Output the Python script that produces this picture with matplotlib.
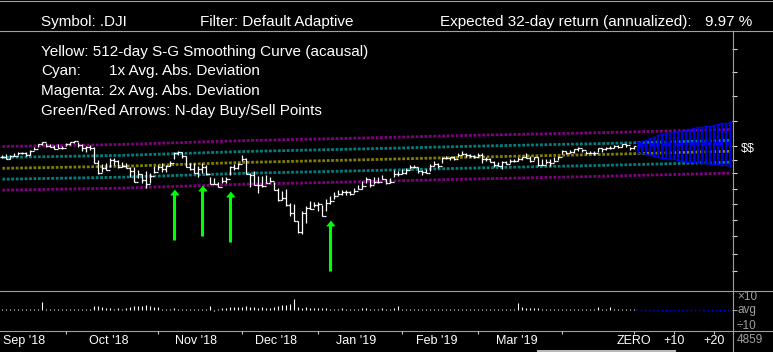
#%% imports
import matplotlib
matplotlib.use("Agg")
import matplotlib.pyplot as plt
from matplotlib.lines import Line2D
from matplotlib.patches import Rectangle
from matplotlib.ticker import FixedLocator, NullLocator
from matplotlib.transforms import blended_transform_factory
import numpy as np

plt.rcParams["font.family"] = ["Liberation Sans", "DejaVu Sans"]

#%% data (.DJI daily bars, 7 Sep 2018 .. 26 Apr 2019, last bar = day 0)
bar_high = [26050, 26105, 26050, 26160, 26215, 26215, 26215, 26325, 26490, 26655,
            26765, 26710, 26655, 26600, 26655, 26545, 26710, 26710, 26820, 26765,
            26655, 26545, 26600, 26490, 25775, 25555, 25610, 25885, 25885, 25775,
            25665, 25610, 25390, 25390, 25225, 25005, 25170, 25060, 25445, 25500,
            25610, 25500, 25720, 26215, 26270, 26215, 25995, 25610, 25610, 25445,
            25610, 25500, 24840, 24785, 24565, 24840, 24840, 25445, 25555, 25610,
            26050, 25885, 25060, 25170, 24895, 24895, 24950, 24840, 24565, 24235,
            24070, 24180, 23410, 23355, 22420, 22970, 23245, 23520, 23465, 23465,
            23300, 23630, 23795, 24015, 24125, 24125, 24125, 24070, 24235, 24400,
            24620, 24840, 24730, 24840, 24840, 24950, 24730, 24785, 25225, 25170,
            25280, 25335, 25500, 25500, 25390, 25225, 25280, 25555, 25720, 25610,
            25940, 25995, 25940, 25995, 26160, 26270, 26160, 26105, 26050, 26160,
            26160, 25940, 25885, 25720, 25665, 25720, 25720, 25830, 25830, 25940,
            25940, 26160, 25995, 25940, 25940, 25830, 25830, 25830, 25940, 25995,
            26325, 26270, 26325, 26380, 26490, 26380, 26270, 26270, 26270, 26435,
            26435, 26490, 26545, 26600, 26600, 26655, 26655, 26490, 26545]
bar_low = [25885, 25830, 25830, 25995, 26050, 26105, 25995, 26050, 26325, 26490,
           26600, 26490, 26490, 26380, 26490, 26380, 26545, 26600, 26710, 26490,
           26270, 26215, 26325, 25610, 25005, 25115, 25335, 25390, 25500, 25335,
           25390, 25335, 24840, 24675, 24785, 24510, 24235, 24510, 25060, 25225,
           25115, 25115, 25445, 25830, 26050, 25885, 25390, 25225, 25060, 24840,
           25060, 24950, 24510, 24455, 24345, 24510, 24510, 24950, 25225, 25280,
           25720, 25115, 24290, 24400, 23960, 24290, 24510, 24565, 24125, 23520,
           23575, 23245, 22695, 22420, 21760, 21705, 22310, 23080, 23190, 22970,
           22695, 22970, 23355, 23630, 23850, 23850, 23850, 23850, 23960, 24180,
           24180, 24510, 24290, 24455, 24510, 24730, 24455, 24510, 24840, 24895,
           25005, 25005, 25280, 25335, 25060, 24950, 25060, 25170, 25445, 25335,
           25610, 25830, 25775, 25775, 25940, 26050, 25940, 25940, 25885, 25940,
           25610, 25720, 25665, 25390, 25445, 25280, 25555, 25610, 25665, 25720,
           25775, 25885, 25665, 25775, 25445, 25555, 25555, 25445, 25665, 25775,
           26105, 26105, 26160, 26160, 26270, 26215, 26105, 26160, 26050, 26215,
           26215, 26325, 26380, 26435, 26435, 26490, 26490, 26325, 26380]
bar_close = [25917, 25857, 25971, 25999, 26145, 26154, 26062, 26246, 26405, 26657,
             26743, 26562, 26492, 26385, 26440, 26458, 26651, 26774, 26828, 26627,
             26447, 26487, 26430, 25599, 25053, 25340, 25250, 25798, 25706, 25380,
             25444, 25317, 25191, 24583, 24985, 24688, 24443, 24875, 25116, 25380,
             25271, 25462, 25635, 26180, 26191, 25989, 25387, 25287, 25081, 25289,
             25413, 25018, 24465, 24465, 24286, 24640, 24748, 25366, 25339, 25538,
             25826, 25027, 24947, 24389, 24423, 24370, 24527, 24597, 24100, 23592,
             23675, 23323, 22859, 22445, 21792, 22878, 23138, 23062, 23327, 23346,
             22686, 23433, 23531, 23787, 23879, 24001, 23996, 23910, 24066, 24207,
             24370, 24706, 24404, 24575, 24553, 24737, 24528, 24580, 25014, 24999,
             25064, 25239, 25411, 25390, 25169, 25106, 25053, 25425, 25543, 25439,
             25883, 25891, 25954, 25850, 26031, 26091, 26057, 25985, 25916, 26026,
             25819, 25806, 25673, 25473, 25450, 25650, 25554, 25702, 25709, 25849,
             25914, 25887, 25745, 25962, 25502, 25516, 25658, 25626, 25717, 25929,
             26258, 26179, 26218, 26385, 26425, 26341, 26150, 26157, 26143, 26412,
             26384, 26452, 26449, 26559, 26511, 26656, 26597, 26462, 26543]
# volume relative to its average
vol_ratio = [1.15, 1.15, 1.15, 1.15, 1.15, 1.15, 1.15, 1.15, 1.15, 1.2,
             3.7, 1.15, 1.15, 1.15, 1.15, 1.15, 1.2, 1.15, 1.15, 1.2,
             1.2, 1.15, 1.2, 1.9, 1.9, 1.6, 1.4, 1.3, 1.2, 1.3,
             1.2, 1.3, 1.6, 1.9, 1.9, 1.9, 2.2, 1.9, 1.6, 1.6,
             1.2, 1.15, 1.15, 1.3, 1.2, 1.15, 1.15, 1.2, 1.2, 1.2,
             1.15, 1.2, 1.9, 0.85, 1.15, 1.3, 1.4, 1.6, 1.6, 1.6,
             1.6, 1.9, 1.6, 1.6, 1.4, 1.6, 1.4, 1.3, 1.6, 1.9,
             2.2, 2.2, 2.6, 6.0, 1.6, 1.4, 1.6, 1.4, 1.3, 1.3,
             1.4, 1.3, 1.2, 1.2, 1.2, 1.3, 1.2, 1.15, 1.2, 1.2,
             1.3, 1.4, 1.2, 1.2, 1.15, 1.3, 1.2, 1.15, 1.3, 1.9,
             1.2, 1.15, 1.15, 1.15, 1.15, 1.15, 1.15, 1.15, 1.15, 1.15,
             1.2, 1.15, 1.15, 1.15, 1.15, 1.15, 1.15, 1.15, 1.15, 1.15,
             1.15, 1.15, 1.15, 1.15, 1.15, 1.15, 1.15, 1.15, 1.2, 3.2,
             1.6, 1.4, 1.4, 1.4, 1.4, 1.15, 1.15, 1.15, 1.15, 1.15,
             1.15, 1.15, 1.15, 1.15, 1.15, 1.15, 1.15, 1.15, 1.15, 1.6,
             1.15, 1.15, 1.6, 1.15, 1.15, 1.15, 1.15, 1.15, 1.15]

# smoothing curve (yellow) and its average absolute deviation
curve_days = [-158, -128, -98, -68, -38, -8, 24]
curve_mid = [25318, 25430, 25640, 25785, 25945, 26080, 26255]
avg_abs_dev = 600

# forecast fan (blue)
fc_days = [1, 2, 3, 4, 5, 6, 7, 8, 9, 10, 11, 12, 13, 14, 15, 16, 17, 18, 19, 20, 21, 22, 23, 24]
fc_high = [26780, 26835, 26875, 26970, 27055, 27150, 27205, 27245, 27275, 27330, 27370, 27385,
           27425, 27480, 27520, 27575, 27605, 27645, 27660, 27700, 27740, 27795, 27825, 27880]
fc_low = [26175, 26145, 26105, 26050, 25995, 25955, 25900, 25870, 25830, 25815, 25775, 25735,
          25680, 25680, 25650, 25625, 25595, 25595, 25555, 25540, 25540, 25500, 25500, 25460]
fc_mid_days = [1, 24]
fc_mid = [26600, 26680]

# buy arrows
buy_days = [-115, -108, -101, -76]
buy_tips = [24125, 24345, 24015, 22420]

month_starts = [-161, -142, -119, -98, -79, -58, -39, -18]
month_labels = ["Sep '18", "Oct '18", "Nov '18", "Dec '18", "Jan '19", "Feb '19", "Mar '19"]
fwd_days = [0, 10, 20]
fwd_labels = ["ZERO", "+10", "+20"]
price_ticks = [31880, 30615, 29295, 27920, 26545, 25775, 25060, 24180, 23355, 22475, 21595, 20605, 19670]

#%% styles
W, H = 773, 352
GRAY = "#a0a0a0"
MAG, CYAN, YEL = "#800080", "#008080", "#808000"
BLUE = "#0000ff"
GREEN = "#00ff00"
DOTS = (0, (1.0, 0.6))


def fx(x):
    return x / W


def fy(y):
    return 1 - y / H


#%% figure
fig = plt.figure(figsize=(W / 100, H / 100), dpi=100, facecolor="black")
ax = fig.add_axes([0, fy(290.7), 732 / W, (290.7 - 31) / H])
axv = fig.add_axes([0, fy(330.7), 732 / W, 40 / H])
for a in (ax, axv):
    a.set_facecolor("black")
    for s in a.spines.values():
        s.set_visible(False)
    a.set_xlim(-158.6, 24.4)

n = len(bar_close)
days = np.arange(n) - (n - 1)
close = np.array(bar_close, float)
high = np.maximum(bar_high, close)
low = np.minimum(bar_low, close)
opn = np.r_[close[0], close[:-1]]

# bands
mid = np.array(curve_mid, float)
for mult, col in [(2, MAG), (1, CYAN), (0, YEL), (-1, CYAN), (-2, MAG)]:
    ax.plot(curve_days, mid + mult * avg_abs_dev, color=col, lw=2.0, ls=DOTS, zorder=1)

# price bars
ax.vlines(days, low, high, color="white", lw=0.9, zorder=3)
ax.hlines(opn, days - 0.5, days, color="white", lw=0.9, zorder=3)
ax.hlines(close, days, days + 0.5, color="white", lw=0.9, zorder=3)

# forecast fan
fdays = np.array(fc_days)
ax.plot(fc_mid_days, fc_mid, color=BLUE, lw=2.6, ls=DOTS, zorder=2)
ax.vlines(fdays, fc_low, fc_high, color=BLUE, lw=1.3, zorder=2)
ax.hlines(fc_high, fdays - 0.5, fdays + 0.5, color=BLUE, lw=1.0, zorder=2)
ax.hlines(fc_low, fdays - 0.5, fdays + 0.5, color=BLUE, lw=1.0, zorder=2)

# buy arrows
tips = np.array(buy_tips, float)
ax.vlines(buy_days, tips - 2750, tips - 150, color=GREEN, lw=2.2, zorder=4)
ax.plot(buy_days, tips - 110, ls="none", marker=[(-1, -0.6), (1, -0.6), (0, 0.6)],
        ms=5.5, color=GREEN, zorder=4)

ax.set_ylim(18586, 32870)
ax.set_xticks([])
ax.yaxis.tick_right()
ax.set_yticks(price_ticks)
ax.minorticks_off()
ax.tick_params(axis="y", direction="out", length=3.5, width=0.8, color="#d8d8d8", labelright=False)

# volume
axv.set_yscale("log")
axv.set_ylim(0.033, 23.9)
axv.vlines(days, 1.0, vol_ratio, color="white", lw=0.8)
axv.hlines(1.0, 0.5, 24.4, color=BLUE, lw=1.0, ls=(0, (1, 2)))
axv.yaxis.tick_right()
axv.yaxis.set_major_locator(FixedLocator([1.0]))
axv.yaxis.set_minor_locator(NullLocator())
axv.tick_params(axis="y", direction="out", length=3.5, width=0.8, color=GRAY, labelright=False)
tick_days = [d for d in month_starts if d > -158.6] + fwd_days
axv.set_xticks(tick_days)
axv.tick_params(axis="x", direction="out", length=2.5, width=0.8, color="#c8c8c8", labelbottom=False)

trans = blended_transform_factory(axv.transData, fig.transFigure)
for i, lab in enumerate(month_labels):
    xm = (month_starts[i] + month_starts[i + 1]) / 2 - 1
    axv.text(xm, fy(344), lab, transform=trans, color="white", fontsize=9,
             ha="center", va="baseline")
for d, lab in zip(fwd_days, fwd_labels):
    axv.text(d, fy(344), lab, transform=trans, color="white", fontsize=9,
             ha="center", va="baseline")

#%% frame lines
def hline(y, x0=0, x1=W):
    fig.add_artist(Line2D([fx(x0), fx(x1)], [fy(y), fy(y)], color=GRAY, lw=0.8))


hline(0.6)
hline(31)
hline(290.7)
hline(330.7)
fig.add_artist(Line2D([fx(732.5), fx(732.5)], [fy(31), fy(352)], color=GRAY, lw=0.8))
fig.add_artist(Rectangle((fx(537), 0), fx(676) - fx(537), 2 / H, color="#b8b8b8", lw=0))

#%% texts
hdr = dict(color="white", fontsize=11, va="baseline")
fig.text(fx(41), fy(26), "Symbol: .DJI", **hdr)
fig.text(fx(200), fy(26), "Filter: Default Adaptive", **hdr)
fig.text(fx(440), fy(26), "Expected 32-day return (annualized):", **hdr)
fig.text(fx(705), fy(26), "9.97 %", **hdr)

fig.text(fx(41), fy(56), "Yellow: 512-day S-G Smoothing Curve (acausal)", **hdr)
fig.text(fx(41), fy(75.5), "Cyan:", **hdr)
fig.text(fx(109), fy(75.5), "1x Avg. Abs. Deviation", **hdr)
fig.text(fx(41), fy(95.5), "Magenta: 2x Avg. Abs. Deviation", **hdr)
fig.text(fx(41), fy(115.5), "Green/Red Arrows: N-day Buy/Sell Points", **hdr)

fig.text(fx(741), fy(152), "$$", color="white", fontsize=9, va="baseline", parse_math=False)
side = dict(color=GRAY, fontsize=8.5, va="baseline")
fig.text(fx(737), fy(300), "\u00d710", **side)
fig.text(fx(738), fy(313), "avg", **side)
fig.text(fx(737), fy(329), "\u00f710", **side)
fig.text(fx(737), fy(343), "4859", **side)

fig.savefig("out.png", dpi=100, facecolor="black")
